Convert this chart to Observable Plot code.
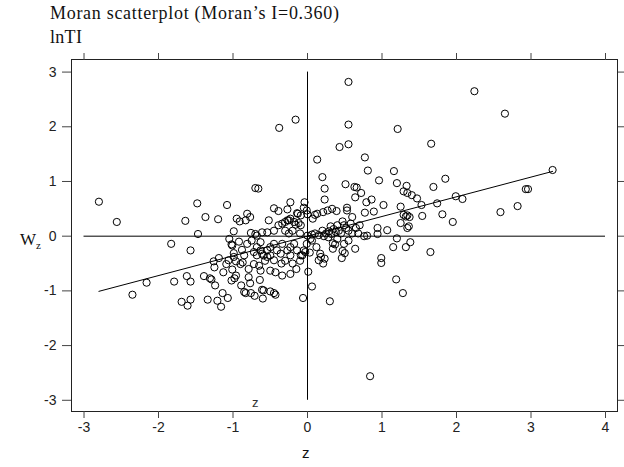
<!DOCTYPE html>
<html>
<head>
<meta charset="utf-8">
<script src="https://cdn.jsdelivr.net/npm/d3@7"></script>
<script src="https://cdn.jsdelivr.net/npm/@observablehq/plot@0.6"></script>
<style>
  html, body { margin: 0; padding: 0; background: #fff; }
  #wrap { position: relative; width: 624px; height: 467px; overflow: hidden; }
  #wrap svg { position: absolute; left: 0; top: 0; }
  .t { position: absolute; white-space: nowrap; color: #111; }
  .serif { font-family: "Liberation Serif", "DejaVu Serif", serif; }
  .sans { font-family: "Liberation Sans", Arial, sans-serif; }
</style>
</head>
<body>
<div id="wrap">
  <div class="t serif" style="left:50px; top:3px; font-size:18px; letter-spacing:0.7px;">Moran scatterplot (Moran’s I=0.360)</div>
  <div class="t serif" style="left:50px; top:27px; font-size:18px; letter-spacing:0.3px;">lnTI</div>
  <div class="t serif" style="left:20px; top:230px; font-size:17px;">W<sub style="font-size:11px; vertical-align:-4px;">z</sub></div>
  <div class="t sans" style="left:302px; top:444px; font-size:15px;">z</div>
</div>
<script>
// Chart values
const title = "Moran scatterplot (Moran’s I=0.360)";
const moranI = 0.360;
const xTicks = [-3, -2, -1, 0, 1, 2, 3, 4];
const yTicks = [-3, -2, -1, 0, 1, 2, 3];

// z (standardised lnTI) and spatial lag Wz
const zVals = [
  -2.80,-2.56,-2.35,-2.16,-1.83,-1.79,-1.69,-1.64,-1.62,-1.61,-1.57,-1.57,-1.57,-1.48,-1.47,-1.37,-1.39,-1.34,-1.31,-1.29,
  -1.26,-1.25,-1.24,-1.21,-1.20,-1.19,-1.16,-1.14,-1.13,-1.09,-1.08,-1.07,-1.06,-1.05,-1.02,-1.01,-1.01,-1.02,-0.99,-0.99,
  -0.99,-0.98,-0.96,-0.96,-0.95,-0.91,-0.90,-0.89,-0.87,-0.85,-0.83,-0.83,-0.81,-0.81,-0.79,-0.79,-0.77,-0.77,-0.76,-0.76,
  -0.75,-0.72,-0.72,-0.71,-0.70,-0.66,-0.70,-0.68,-0.68,-0.68,-0.65,-0.64,-0.63,-0.63,-0.63,-0.61,-0.61,-0.61,-0.60,-0.59,
  -0.59,-0.54,-0.54,-0.54,-0.52,-0.50,-0.50,-0.50,-0.50,-0.45,-0.45,-0.45,-0.45,-0.45,-0.43,-0.43,-0.41,-0.39,-0.39,-0.38,
  -0.36,-0.34,-0.34,-0.34,-0.30,-0.27,-0.27,-0.27,-0.25,-0.23,-0.23,-0.23,-0.23,-0.23,-0.18,-0.18,-0.16,-0.16,-0.14,-0.14,
  -0.12,-0.13,-0.09,-0.09,-0.09,-0.06,-0.05,-0.04,-0.05,-0.03,-0.07,-0.01,0.00,0.00,-0.01,0.01,0.04,0.06,0.06,0.06,
  0.07,0.10,0.13,0.13,0.15,0.17,0.18,0.20,0.21,0.21,0.23,0.23,0.23,0.27,0.29,0.30,0.31,0.33,0.34,0.34,
  0.35,0.37,0.39,0.43,0.46,0.47,0.47,0.49,0.49,0.50,0.51,0.52,0.53,0.53,0.55,0.55,0.55,0.58,0.60,0.63,
  0.66,0.64,0.64,0.72,0.76,0.77,0.77,0.79,0.80,0.81,0.84,0.86,0.89,0.94,0.94,0.96,0.99,0.99,1.02,1.07,
  1.15,1.16,1.19,1.20,1.20,1.21,1.25,1.25,1.28,1.29,1.29,1.32,1.32,1.33,1.34,1.34,1.34,1.36,1.37,1.38,
  1.40,1.47,1.53,1.54,1.65,1.66,1.69,1.74,1.81,1.85,1.95,1.99,2.08,2.24,2.59,2.65,2.82,2.93,2.96,3.29,
  0.10,0.15,0.20,0.22,0.25,0.28,0.32,0.38,0.40,0.42,0.45,0.55,0.60,0.65,0.70,0.68,0.12,0.03,0.40,0.55,
  -0.88,-0.85,-0.92,-0.57,-0.35,-0.30,-0.20,-0.10,-0.15,-0.25,-0.20,-0.10,-0.30
];
const wzVals = [
  0.63,0.26,-1.07,-0.85,-0.14,-0.83,-1.20,0.28,-0.73,-1.27,-0.26,-0.83,-1.16,0.60,0.04,0.35,-0.73,-1.16,-0.77,-0.79,
  -0.46,-0.57,-0.90,-1.18,0.31,-0.40,-1.29,-1.04,-0.66,-0.51,0.57,-1.13,-0.44,-0.05,-0.15,-0.17,-0.61,-0.81,0.09,-0.31,
  -0.38,-0.77,-0.72,-0.46,0.32,0.27,-0.51,-0.90,-0.48,-1.02,-1.04,0.29,0.41,-0.14,-0.60,-0.75,0.35,-0.86,-1.04,0.06,
  -0.08,-0.29,-0.51,-1.09,0.88,0.87,0.04,0.01,-0.35,-0.20,-0.54,-0.80,-0.63,-0.11,-0.26,0.07,-0.98,-0.32,-1.14,-0.99,
  -0.35,-0.38,0.07,-0.26,0.29,-1.01,-0.35,-0.63,-0.20,0.51,0.10,-0.14,-0.44,-1.04,-1.07,-0.66,-0.26,0.46,0.20,1.98,
  -0.32,0.23,-0.14,-0.72,0.26,0.49,0.29,-0.26,0.29,0.62,0.32,-0.35,-0.20,-0.69,0.26,-0.14,2.13,0.21,0.42,-0.26,
  0.24,0.41,0.38,0.20,-0.35,-1.13,0.52,0.62,-0.26,-0.29,-0.35,0.47,0.40,0.01,-0.14,-0.65,-0.05,0.03,-0.08,-0.92,
  0.32,0.39,1.40,0.41,-0.44,-0.32,-0.38,1.08,0.44,-0.50,0.87,0.67,-0.41,0.47,0.09,-1.19,0.18,0.50,-0.23,-0.13,
  0.13,-0.15,0.46,1.63,-0.40,0.27,-0.27,0.20,-0.14,-0.31,0.95,0.15,0.52,0.47,2.82,2.04,1.68,0.23,0.35,0.90,
  0.89,0.71,-0.23,0.79,0.00,1.44,0.43,0.62,0.01,1.20,-2.56,0.67,0.45,0.15,0.04,1.02,-0.40,-0.49,0.57,0.11,
  -0.20,1.19,-0.79,0.97,-0.04,1.96,0.54,0.24,-1.04,0.82,0.39,0.36,-0.20,0.92,0.79,0.38,0.15,0.18,0.35,-0.11,
  0.75,0.69,0.57,0.37,-0.29,1.69,0.90,0.60,0.40,1.05,0.26,0.73,0.68,2.65,0.44,2.24,0.55,0.86,0.86,1.21,
  0.05,0.02,0.10,0.00,0.05,-0.02,0.04,0.08,0.20,0.10,0.05,0.10,0.05,0.15,0.20,0.05,-0.20,-0.30,-0.05,-0.08,
  -0.25,-0.35,-0.10,-0.45,-0.50,-0.45,-0.50,-0.45,-0.60,0.05,0.10,0.05,0.10
];

const points = zVals.map((z, i) => ({z, wz: wzVals[i]}));
const zExt = d3.extent(zVals);
const fitLine = zExt.map(z => ({z, wz: moranI * z}));

const font = "'Liberation Sans', Arial, sans-serif";
const tickColor = "#444";
const fmt = d => String(d);

const chart = Plot.plot({
  width: 624,
  height: 467,
  marginLeft: 71,
  marginRight: 7,
  marginTop: 59,
  marginBottom: 56,
  style: {fontFamily: font, fontSize: "14px", color: "#222", background: "white"},
  x: {domain: [-3.168, 4.161]},
  y: {domain: [-3.205, 3.230]},
  marks: [
    Plot.frame({stroke: "#222"}),
    Plot.axisX(xTicks, {anchor: "bottom", tickSize: 7, tickPadding: 4, tickFormat: fmt, stroke: tickColor, fill: "#222", label: null}),
    Plot.axisX(xTicks, {anchor: "top", tickSize: 7, tickFormat: () => "", stroke: tickColor, label: null}),
    Plot.axisY(yTicks, {anchor: "left", tickSize: 9, tickPadding: 6, tickFormat: fmt, stroke: tickColor, fill: "#222", label: null}),
    Plot.axisY(yTicks, {anchor: "right", tickSize: 7, tickFormat: () => "", stroke: tickColor, label: null}),
    Plot.ruleX([0], {y1: -3, y2: 3, stroke: "black", strokeWidth: 1}),
    Plot.ruleY([0], {x1: -3, x2: 4, stroke: "black", strokeWidth: 1}),
    Plot.line(fitLine, {x: "z", y: "wz", stroke: "black", strokeWidth: 1}),
    Plot.dot(points, {x: "z", y: "wz", r: 3.6, stroke: "black", fill: "none", strokeWidth: 1}),
    Plot.text(["z"], {x: -0.7, y: -3.05, text: d => d, fontSize: 13, fill: "#333", fontFamily: font})
  ]
});
document.getElementById("wrap").prepend(chart);
</script>
</body>
</html>
